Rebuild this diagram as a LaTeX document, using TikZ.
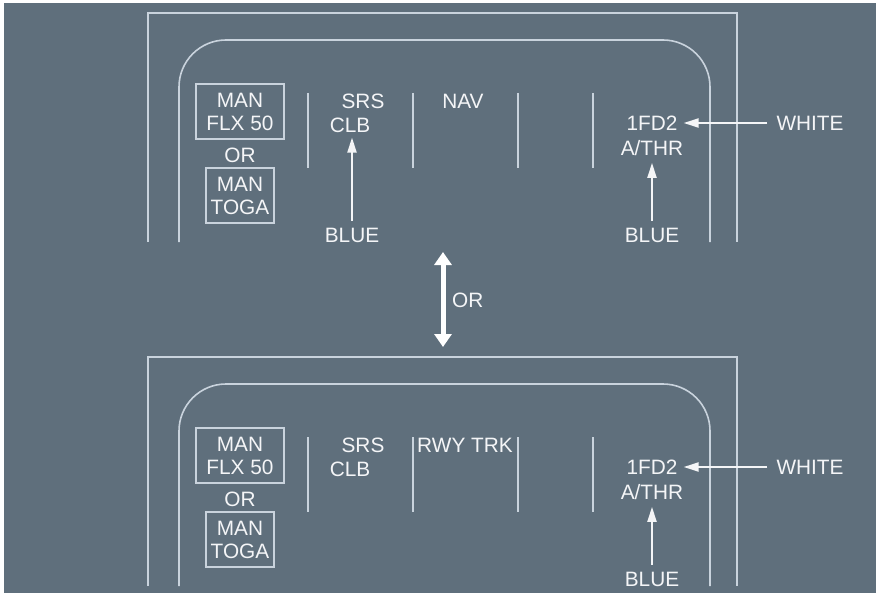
\documentclass[tikz,border=0pt]{standalone}
\usepackage{fontspec}
\setmainfont{Liberation Sans}
\usetikzlibrary{arrows.meta}
\definecolor{bg}{HTML}{5F6F7C}
\definecolor{ln}{HTML}{C9D3DD}
\definecolor{tx}{HTML}{F4F5F7}
\begin{document}
\begin{tikzpicture}[x=1pt,y=-1pt,
  frame/.style={draw=ln, line width=1.6pt},
  sepline/.style={draw=ln, line width=1.6pt},
  lbl/.style={text=tx, inner sep=0pt, font=\fontsize{20.8}{23}\selectfont, align=center},
  modebox/.style={lbl, draw=ln, line width=1.4pt},
  pointer/.style={draw=tx, line width=2pt, -{Triangle[length=15pt,width=9pt]}},
  dbl/.style={draw=white, line width=5pt, {Triangle[length=13pt,width=17pt]}-{Triangle[length=13pt,width=17pt]}}
]
\useasboundingbox (0,0) rectangle (876,594);
\fill[white] (0,0) rectangle (876,594);
\fill[bg] (4,3) rectangle (876,593);

% ---------- top panel ----------
\draw[frame] (148,242) -- (148,13) -- (737,13) -- (737,242);
\draw[frame, rounded corners=47pt] (179,242) -- (179,40) -- (710,40) -- (710,242);
\foreach \x in {308,413,518,593} \draw[sepline] (\x,93) -- (\x,168);
\node[modebox, minimum width=88pt, minimum height=55pt] (flx1) at (240,111.5) {MAN\\FLX 50};
\node[lbl] (or1) at (240,155) {OR};
\node[modebox, minimum width=68pt, minimum height=55pt] (toga1) at (240,195.5) {MAN\\TOGA};
\node[lbl] (srs1) at (363,101) {SRS};
\node[lbl] (clb1) at (350,125) {CLB};
\node[lbl] (nav1) at (463,101) {NAV};
\node[lbl] (fd1) at (652,123) {1FD2};
\node[lbl] (athr1) at (652,148) {A/THR};
\node[lbl] (wh1) at (810,123) {WHITE};
\node[lbl] (bla1) at (352,235) {BLUE};
\node[lbl] (blb1) at (652,235) {BLUE};
\draw[pointer, shorten <=7pt, shorten >=5pt] (bla1.north) -- (bla1.north |- clb1.south);
\draw[pointer, shorten <=7pt, shorten >=7pt] (blb1.north) -- (athr1.south);
\draw[pointer, shorten <=9pt, shorten >=6pt] (wh1.west) -- (fd1.east);

% ---------- middle ----------
\coordinate (up) at (443,252);
\coordinate (dn) at (443,347);
\draw[dbl] (up) -- (dn);
\node[lbl, anchor=west] (orm) at (452,300) {OR};

% ---------- bottom panel ----------
\begin{scope}[shift={(0,344)}]
\draw[frame] (148,242) -- (148,13) -- (737,13) -- (737,242);
\draw[frame, rounded corners=47pt] (179,242) -- (179,40) -- (710,40) -- (710,242);
\foreach \x in {308,413,518,593} \draw[sepline] (\x,93) -- (\x,168);
\node[modebox, minimum width=88pt, minimum height=55pt] (flx2) at (240,111.5) {MAN\\FLX 50};
\node[lbl] (or2) at (240,155) {OR};
\node[modebox, minimum width=68pt, minimum height=55pt] (toga2) at (240,195.5) {MAN\\TOGA};
\node[lbl] (srs2) at (363,101) {SRS};
\node[lbl] (clb2) at (350,125) {CLB};
\node[lbl] (rwy2) at (465,101) {RWY TRK};
\node[lbl] (fd2) at (652,123) {1FD2};
\node[lbl] (athr2) at (652,148) {A/THR};
\node[lbl] (wh2) at (810,123) {WHITE};
\node[lbl] (blb2) at (652,235) {BLUE};
\draw[pointer, shorten <=7pt, shorten >=7pt] (blb2.north) -- (athr2.south);
\draw[pointer, shorten <=9pt, shorten >=6pt] (wh2.west) -- (fd2.east);
\end{scope}
\end{tikzpicture}
\end{document}
